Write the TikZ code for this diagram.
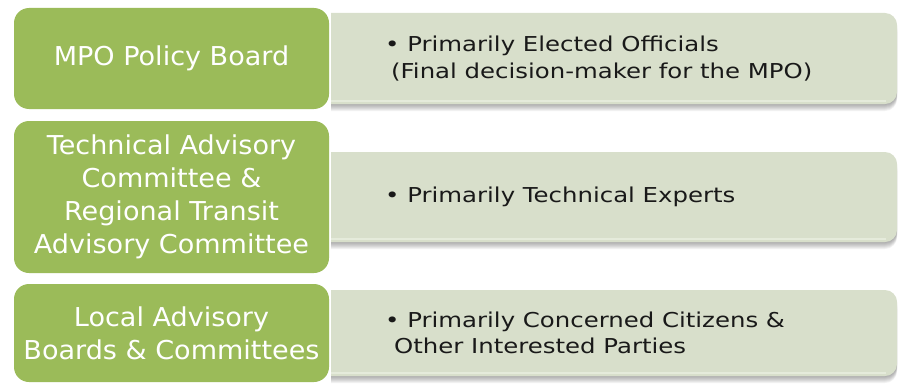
\documentclass[tikz,border=0pt]{standalone}
\usepackage{fontspec}
\setmainfont{DejaVu Sans}
\newfontfamily\grpfont[FakeStretch=1.04]{DejaVu Sans}
\newfontfamily\notefont[FakeStretch=1.19]{DejaVu Sans}
\usetikzlibrary{positioning}
\definecolor{boardgreen}{RGB}{155,187,89}
\definecolor{notegrey}{RGB}{216,223,203}
\definecolor{notelight}{RGB}{229,235,219}

\begin{document}
\begin{tikzpicture}
    [x=1pt,y=1pt,
     grp/.style={fill=boardgreen,rounded corners=15pt,minimum width=315pt,
       text=white,align=center,inner sep=0pt,
       font=\grpfont\fontsize{26}{33}\selectfont},
     notetext/.style={anchor=west,align=left,inner sep=0pt,text=black!90,
       font=\notefont\fontsize{20.5}{26.5}\selectfont}]
    \useasboundingbox (0,0) rectangle (899,384);

    \foreach \t/\b in {371/280,232/142,94/8} {
      \foreach \d in {1,...,7} {
        \fill[black,opacity=0.05,yshift=-\d pt] (331,\b) -- (331,\t) -- (885,\t)
          arc[start angle=90,end angle=0,radius=12] -- (897,\b+12)
          arc[start angle=0,end angle=-90,radius=12] -- cycle;
      }
      \fill[notegrey] (331,\b) -- (331,\t) -- (885,\t)
        arc[start angle=90,end angle=0,radius=12] -- (897,\b+12)
        arc[start angle=0,end angle=-90,radius=12] -- cycle;
      \draw[notelight,line width=2pt] (331,\b+3) -- (886,\b+3);
    }

    \node[grp,minimum height=101pt] (mpo) at (171.5,325.5) {MPO Policy Board};
    \node[grp,minimum height=152pt] (tac) at (171.5,187)
      {Technical Advisory\\Committee \&\\Regional Transit\\Advisory Committee};
    \node[grp,minimum height=98pt] (lab) at (171.5,51)
      {Local Advisory\\Boards \& Committees};

    \node[notetext] (mponote) at (385,325.5)
      {\textbullet\ Primarily Elected Officials\\
       \hspace{6pt}(Final decision-maker for the MPO)};
    \node[notetext] (tacnote) at (385,187) {\textbullet\ Primarily Technical Experts};
    \node[notetext] (labnote) at (385,51)
      {\textbullet\ Primarily Concerned Citizens \&\\
       \hspace{9pt}Other Interested Parties};
\end{tikzpicture}
\end{document}
